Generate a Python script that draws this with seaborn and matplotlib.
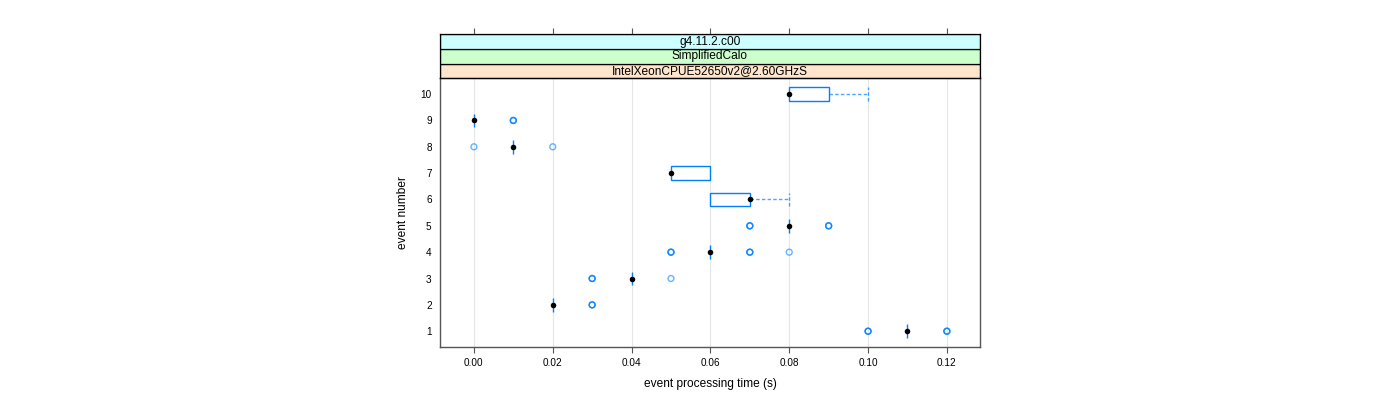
# Box-and-whisker summary of event processing time per event (lattice style)

import matplotlib
matplotlib.use("Agg")
import matplotlib.pyplot as plt
from matplotlib.patches import Rectangle
import pandas as pd
import seaborn as sns

# per-event summary statistics (seconds)
events = [1, 2, 3, 4, 5, 6, 7, 8, 9, 10]
medians = [0.11, 0.02, 0.04, 0.06, 0.08, 0.07, 0.05, 0.01, 0.00, 0.08]
lower_hinge = [0.11, 0.02, 0.04, 0.06, 0.08, 0.06, 0.05, 0.01, 0.00, 0.08]
upper_hinge = [0.11, 0.02, 0.04, 0.06, 0.08, 0.07, 0.06, 0.01, 0.00, 0.09]
whisker_low = [0.11, 0.02, 0.04, 0.06, 0.08, 0.06, 0.05, 0.01, 0.00, 0.08]
whisker_high = [0.11, 0.02, 0.04, 0.06, 0.08, 0.08, 0.06, 0.01, 0.00, 0.10]

# outlying runs (repeated values overplot each other)
outlier_event = [1, 1, 1, 1, 1, 1, 2, 2, 2, 3, 3, 3, 3,
                 4, 4, 4, 4, 4, 4, 4, 5, 5, 5, 5, 5, 5, 8, 8, 9, 9, 9]
outlier_time = [0.10, 0.10, 0.10, 0.12, 0.12, 0.12, 0.03, 0.03, 0.03,
                0.03, 0.03, 0.03, 0.05,
                0.05, 0.05, 0.05, 0.07, 0.07, 0.07, 0.08,
                0.07, 0.07, 0.07, 0.09, 0.09, 0.09,
                0.00, 0.02, 0.01, 0.01, 0.01]

strip_labels = ["IntelXeonCPUE52650v2@2.60GHzS", "SimplifiedCalo", "g4.11.2.c00"]
strip_colors = ["#ffe5cc", "#ccffcc", "#ccffff"]
x_ticks = [0.00, 0.02, 0.04, 0.06, 0.08, 0.10, 0.12]

sns.set_style("white")
plt.rcParams["font.family"] = ["Liberation Sans", "DejaVu Sans"]
plt.rcParams["text.color"] = "black"
plt.rcParams["axes.labelcolor"] = "black"
plt.rcParams["xtick.color"] = "black"
plt.rcParams["ytick.color"] = "black"

blue = "#0080ff"
frame = "#555555"
dash = (0, (2.5, 1.6))

fig = plt.figure(figsize=(14, 4), dpi=100)
left, right = 440 / 1400, 980 / 1400
ax = fig.add_axes([left, 53 / 400, right - left, (347 - 78.3) / 400])

ax.set_xlim(-0.0086, 0.1284)
ax.set_ylim(0.4, 10.6)
for t in x_ticks:
    ax.axvline(t, color="#e6e6e6", lw=0.8, zorder=0)

half = 0.26
for ev, med, lo, hi, wl, wh in zip(events, medians, lower_hinge, upper_hinge,
                                   whisker_low, whisker_high):
    ax.add_patch(Rectangle((lo, ev - half), hi - lo, 2 * half, fill=False,
                           ec=blue, lw=1.0, zorder=2))
    if wh > hi:
        ax.plot([hi, wh], [ev, ev], color=blue, lw=1.0, ls=dash, alpha=0.7, zorder=2)
        ax.plot([wh, wh], [ev - half, ev + half], color=blue, lw=1.0,
                ls=dash, alpha=0.7, zorder=2)
    if wl < lo:
        ax.plot([wl, lo], [ev, ev], color=blue, lw=1.0, ls=dash, alpha=0.7, zorder=2)
        ax.plot([wl, wl], [ev - half, ev + half], color=blue, lw=1.0,
                ls=dash, alpha=0.7, zorder=2)

out_df = pd.DataFrame({"event": outlier_event, "time": outlier_time})
sns.scatterplot(data=out_df, x="time", y="event", ax=ax, marker="o",
                facecolor="none", edgecolor=blue, linewidth=1.0, s=18,
                alpha=0.6, zorder=3, legend=False)

med_df = pd.DataFrame({"event": events, "time": medians})
sns.scatterplot(data=med_df, x="time", y="event", ax=ax, color="black",
                s=16, linewidth=0, zorder=4, legend=False)

ax.set_xticks(x_ticks)
ax.set_xticklabels([f"{t:.2f}" for t in x_ticks])
ax.set_yticks(events)
ax.set_yticklabels([str(e) for e in events])
ax.tick_params(axis="x", direction="out", length=4, width=0.8, color=frame,
               labelsize=7.2, pad=4, bottom=True)
ax.tick_params(axis="y", length=0, labelsize=7.2, pad=6)
ax.set_xlabel("event processing time (s)", fontsize=8.6, labelpad=7)
ax.set_ylabel("event number", fontsize=8.6, labelpad=8)
for sp in ax.spines.values():
    sp.set_color(frame)
    sp.set_linewidth(1.0)

# stacked strips above the panel
sax = fig.add_axes([left, (400 - 78.3) / 400, right - left, 44 / 400], sharex=ax)
sax.set_ylim(0, 3)
for i, (lab, col) in enumerate(zip(strip_labels, strip_colors)):
    sax.add_patch(Rectangle((0, i / 3), 1, 1 / 3, transform=sax.transAxes,
                            fc=col, ec="black", lw=0.9))
    sax.text(0.5, (i + 0.5) / 3, lab, transform=sax.transAxes, ha="center",
             va="center", fontsize=8.6)
sax.xaxis.tick_top()
sax.tick_params(axis="x", direction="out", length=4, width=0.8, color=frame,
                labeltop=False, labelbottom=False, top=True, bottom=False)
sax.set_yticks([])
for sp in sax.spines.values():
    sp.set_color("black")
    sp.set_linewidth(0.9)
sax.set_xlabel("")

fig.savefig("out.png", dpi=100)
plt.close(fig)
